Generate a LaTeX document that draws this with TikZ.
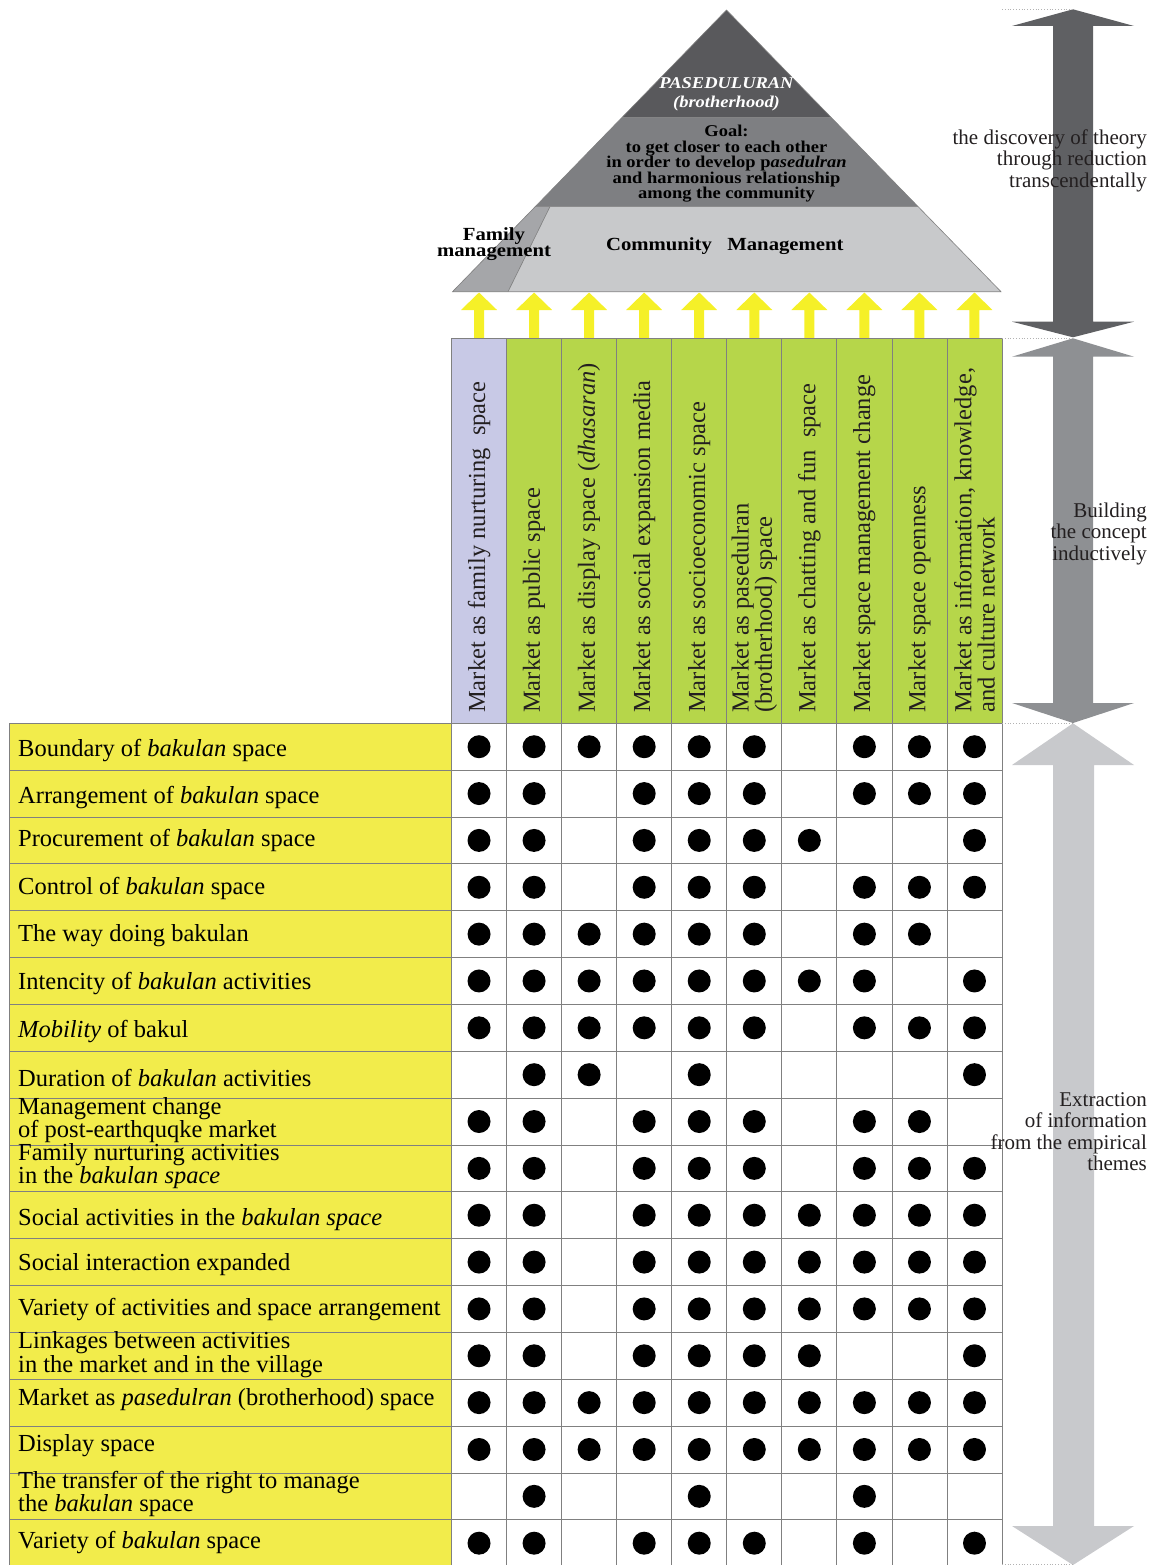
\documentclass[tikz,border=0pt]{standalone}
\usepackage{fontspec}
\setmainfont{Liberation Serif}
\newfontfamily\pyrfont[FakeStretch=1.12]{Liberation Serif}
\usetikzlibrary{calc}

\definecolor{rowyellow}{HTML}{F2EC4B}
\definecolor{headgreen}{HTML}{B6D64A}
\definecolor{headlav}{HTML}{C8C9E6}
\definecolor{arryellow}{HTML}{F5F028}
\definecolor{topgray}{HTML}{59595C}
\definecolor{midgray}{HTML}{7E7F82}
\definecolor{lowgray}{HTML}{C8C9CB}
\definecolor{famgray}{HTML}{A5A6A9}
\definecolor{darkarr}{HTML}{5F6063}
\definecolor{midarr}{HTML}{8E9093}
\definecolor{lightarr}{HTML}{C8C9CC}
\definecolor{gridgray}{HTML}{808080}
\definecolor{txtgray}{HTML}{231F20}

\tikzstyle{rowlab}=[anchor=base west, align=left, inner sep=0pt, font=\fontsize{24.5}{20}\selectfont]
\tikzstyle{headlab}=[rotate=90, anchor=west, align=left, inner sep=0pt, text=txtgray, font=\fontsize{24.5}{21.5}\selectfont]
\tikzstyle{sidelab}=[anchor=base east, align=right, inner sep=0pt, text=txtgray, font=\fontsize{21}{21.5}\selectfont]
\tikzstyle{pyrlab}=[anchor=base, align=center, inner sep=0pt]
\tikzstyle{grid}=[draw=gridgray, line width=0.8pt]
\tikzstyle{pyr}=[draw=gray, line width=0.6pt]
\tikzstyle{guide}=[draw=gray!60, dotted, line width=0.8pt]

\begin{document}
\begin{tikzpicture}[x=1pt, y=-1pt]
    \useasboundingbox (0,0) rectangle (1156,1565);

    % pyramid
    \coordinate (apex) at (726.5,10);
    \coordinate (bl) at (452.5,291.7);
    \coordinate (br) at (1001,291.7);
    \coordinate (l1) at ($(apex)!0.381!(bl)$);
    \coordinate (r1) at ($(apex)!0.381!(br)$);
    \coordinate (l2) at ($(apex)!0.698!(bl)$);
    \coordinate (r2) at ($(apex)!0.698!(br)$);
    \coordinate (f1) at (550,206.6);
    \coordinate (f2) at (508,291.7);
    \fill[lowgray] (l2) -- (r2) -- (br) -- (bl) -- cycle;
    \fill[famgray] (l2) -- (f1) -- (f2) -- (bl) -- cycle;
    \fill[midgray] (l1) -- (r1) -- (r2) -- (l2) -- cycle;
    \fill[topgray] (apex) -- (r1) -- (l1) -- cycle;
    \draw[pyr] (apex) -- (br) -- (bl) -- cycle;
    \draw[pyr] (l1) -- (r1) (l2) -- (r2) (f1) -- (f2);

    % base anchor = baseline of the last line
    \node[pyrlab, text=white, font=\pyrfont\fontsize{16.5}{19}\selectfont\bfseries\itshape] (top) at (726.5,107.3) {PASEDULURAN\\(brotherhood)};
    \node[pyrlab, font=\pyrfont\fontsize{16.5}{15.5}\selectfont\bfseries] (goal) at (726.5,198.7) {Goal:\\to get closer to each other\\in order to develop p\textit{asedulran}\\and harmonious relationship\\among the community};
    \node[pyrlab, font=\pyrfont\fontsize{18.5}{16.7}\selectfont\bfseries] (family) at (494,256.7) {Family\\management};
    \node[pyrlab, font=\pyrfont\fontsize{18.5}{20}\selectfont\bfseries] (community) at (724.8,250) {Community\hspace{0.55em} Management};

    % yellow arrows
    \foreach \c in {1,...,10}
        \fill[arryellow] ({451.5+(\c-0.5)*55.05-5},338) -- ++(0,-28) -- ++(-13,0) -- ++(18,-17.5) -- ++(18,17.5) -- ++(-13,0) -- ++(0,28) -- cycle;

    % header and label column
    \fill[rowyellow] (9.3,723.3) rectangle (451.5,1567);
    \fill[headlav] (451.5,338) rectangle (506.55,723.3);
    \fill[headgreen] (506.55,338) rectangle (1002,723.3);
    \foreach \r in {0,...,17}
        \draw[grid] (9.3,{723.3+\r*46.85}) -- (1002,{723.3+\r*46.85});
    \foreach \c in {0,...,10}
        \draw[grid] ({451.5+\c*55.05},338) -- ({451.5+\c*55.05},1567);
    \draw[grid] (451.5,338) -- (1002,338);
    \draw[grid] (9.3,723.3) -- (9.3,1567);

    \foreach \t [count=\c] in {Market as family nurturing\ \ space, Market as public space,
        Market as display space (\textit{dhasaran}), Market as social expansion media,
        Market as socioeconomic space, {Market as pasedulran\\(brotherhood) space},
        Market as chatting and fun\ \ space, Market space management change,
        Market space openness, {Market as information, knowledge,\\and culture network}}
        \node[headlab] (h\c) at ({451.5+(\c-0.5)*55.05},713) {\t};

    % rows and dots
    \foreach \lab/\dy/\dlist [count=\r] in {
        {Boundary of \textit{bakulan} space}/10/{1,2,3,4,5,6,8,9,10},
        {Arrangement of \textit{bakulan} space}/9.5/{1,2,4,5,6,8,9,10},
        {Procurement of \textit{bakulan} space}/6.2/{1,2,4,5,6,7,10},
        {Control of \textit{bakulan} space}/7.7/{1,2,4,5,6,8,9,10},
        {The way doing bakulan}/7.2/{1,2,3,4,5,6,8,9},
        {Intencity of \textit{bakulan} activities}/8.5/{1,2,3,4,5,6,7,8,10},
        {\textit{Mobility} of bakul}/9.8/{1,2,3,4,5,6,8,9,10},
        {Duration of \textit{bakulan} activities}/11.5/{2,3,5,10},
        {Management change\\of post-earthquqke market}/16/{1,2,4,5,6,8,9},
        {Family nurturing activities\\in the \textit{bakulan space}}/15.6/{1,2,4,5,6,8,9,10},
        {Social activities in the \textit{bakulan space}}/10.4/{1,2,4,5,6,7,8,9,10},
        {Social interaction expanded}/8.5/{1,2,4,5,6,7,8,9,10},
        {Variety of activities and space arrangement}/6.5/{1,2,4,5,6,7,8,9,10},
        {Linkages between activities\\in the market and in the village}/16.3/{1,2,4,5,6,7,10},
        {Market as \textit{pasedulran} (brotherhood) space}/2.7/{1,2,3,4,5,6,7,8,9,10},
        {Display space}/2/{1,2,3,4,5,6,7,8,9,10},
        {The transfer of the right to manage\\the \textit{bakulan} space}/15.3/{2,5,8},
        {Variety of \textit{bakulan} space}/5/{1,2,4,5,6,8,10}}{
        \node[rowlab] (r\r) at (18,{723.3+(\r-0.5)*46.85+\dy}) {\lab};
        \foreach \c in \dlist
            \fill ({451.5+(\c-0.5)*55.05},{723.3+(\r-0.5)*46.85}) circle (11.5pt);
    }

    % side arrows
    \fill[darkarr] (1073,9.3) -- (1134,26) -- (1093,26) -- (1093,321.7) -- (1134,321.7) -- (1073,337.3)
        -- (1012,321.7) -- (1053,321.7) -- (1053,26) -- (1012,26) -- cycle;
    \fill[midarr] (1073,338.3) -- (1134,356.7) -- (1093,356.7) -- (1093,703) -- (1134,703) -- (1073,723)
        -- (1012,703) -- (1053,703) -- (1053,356.7) -- (1012,356.7) -- cycle;
    \fill[lightarr] (1073,723.3) -- (1134,765) -- (1094,765) -- (1094,1526) -- (1134,1526) -- (1073,1565)
        -- (1012,1526) -- (1053,1526) -- (1053,765) -- (1012,765) -- cycle;
    \draw[guide] (1002,9.3) -- (1073,9.3);
    \draw[guide] (1002,338) -- (1073,338);
    \draw[guide] (1002,723.3) -- (1073,723.3);
    \draw[guide] (1002,1564.5) -- (1073,1564.5);

    \node[sidelab] (theory) at (1147,187) {the discovery of theory\\through reduction\\transcendentally};
    \node[sidelab] (concept) at (1147,560) {Building\\the concept\\inductively};
    \node[sidelab] (empiric) at (1147,1170.5) {Extraction\\of information\\from the empirical\\themes};
\end{tikzpicture}
\end{document}
